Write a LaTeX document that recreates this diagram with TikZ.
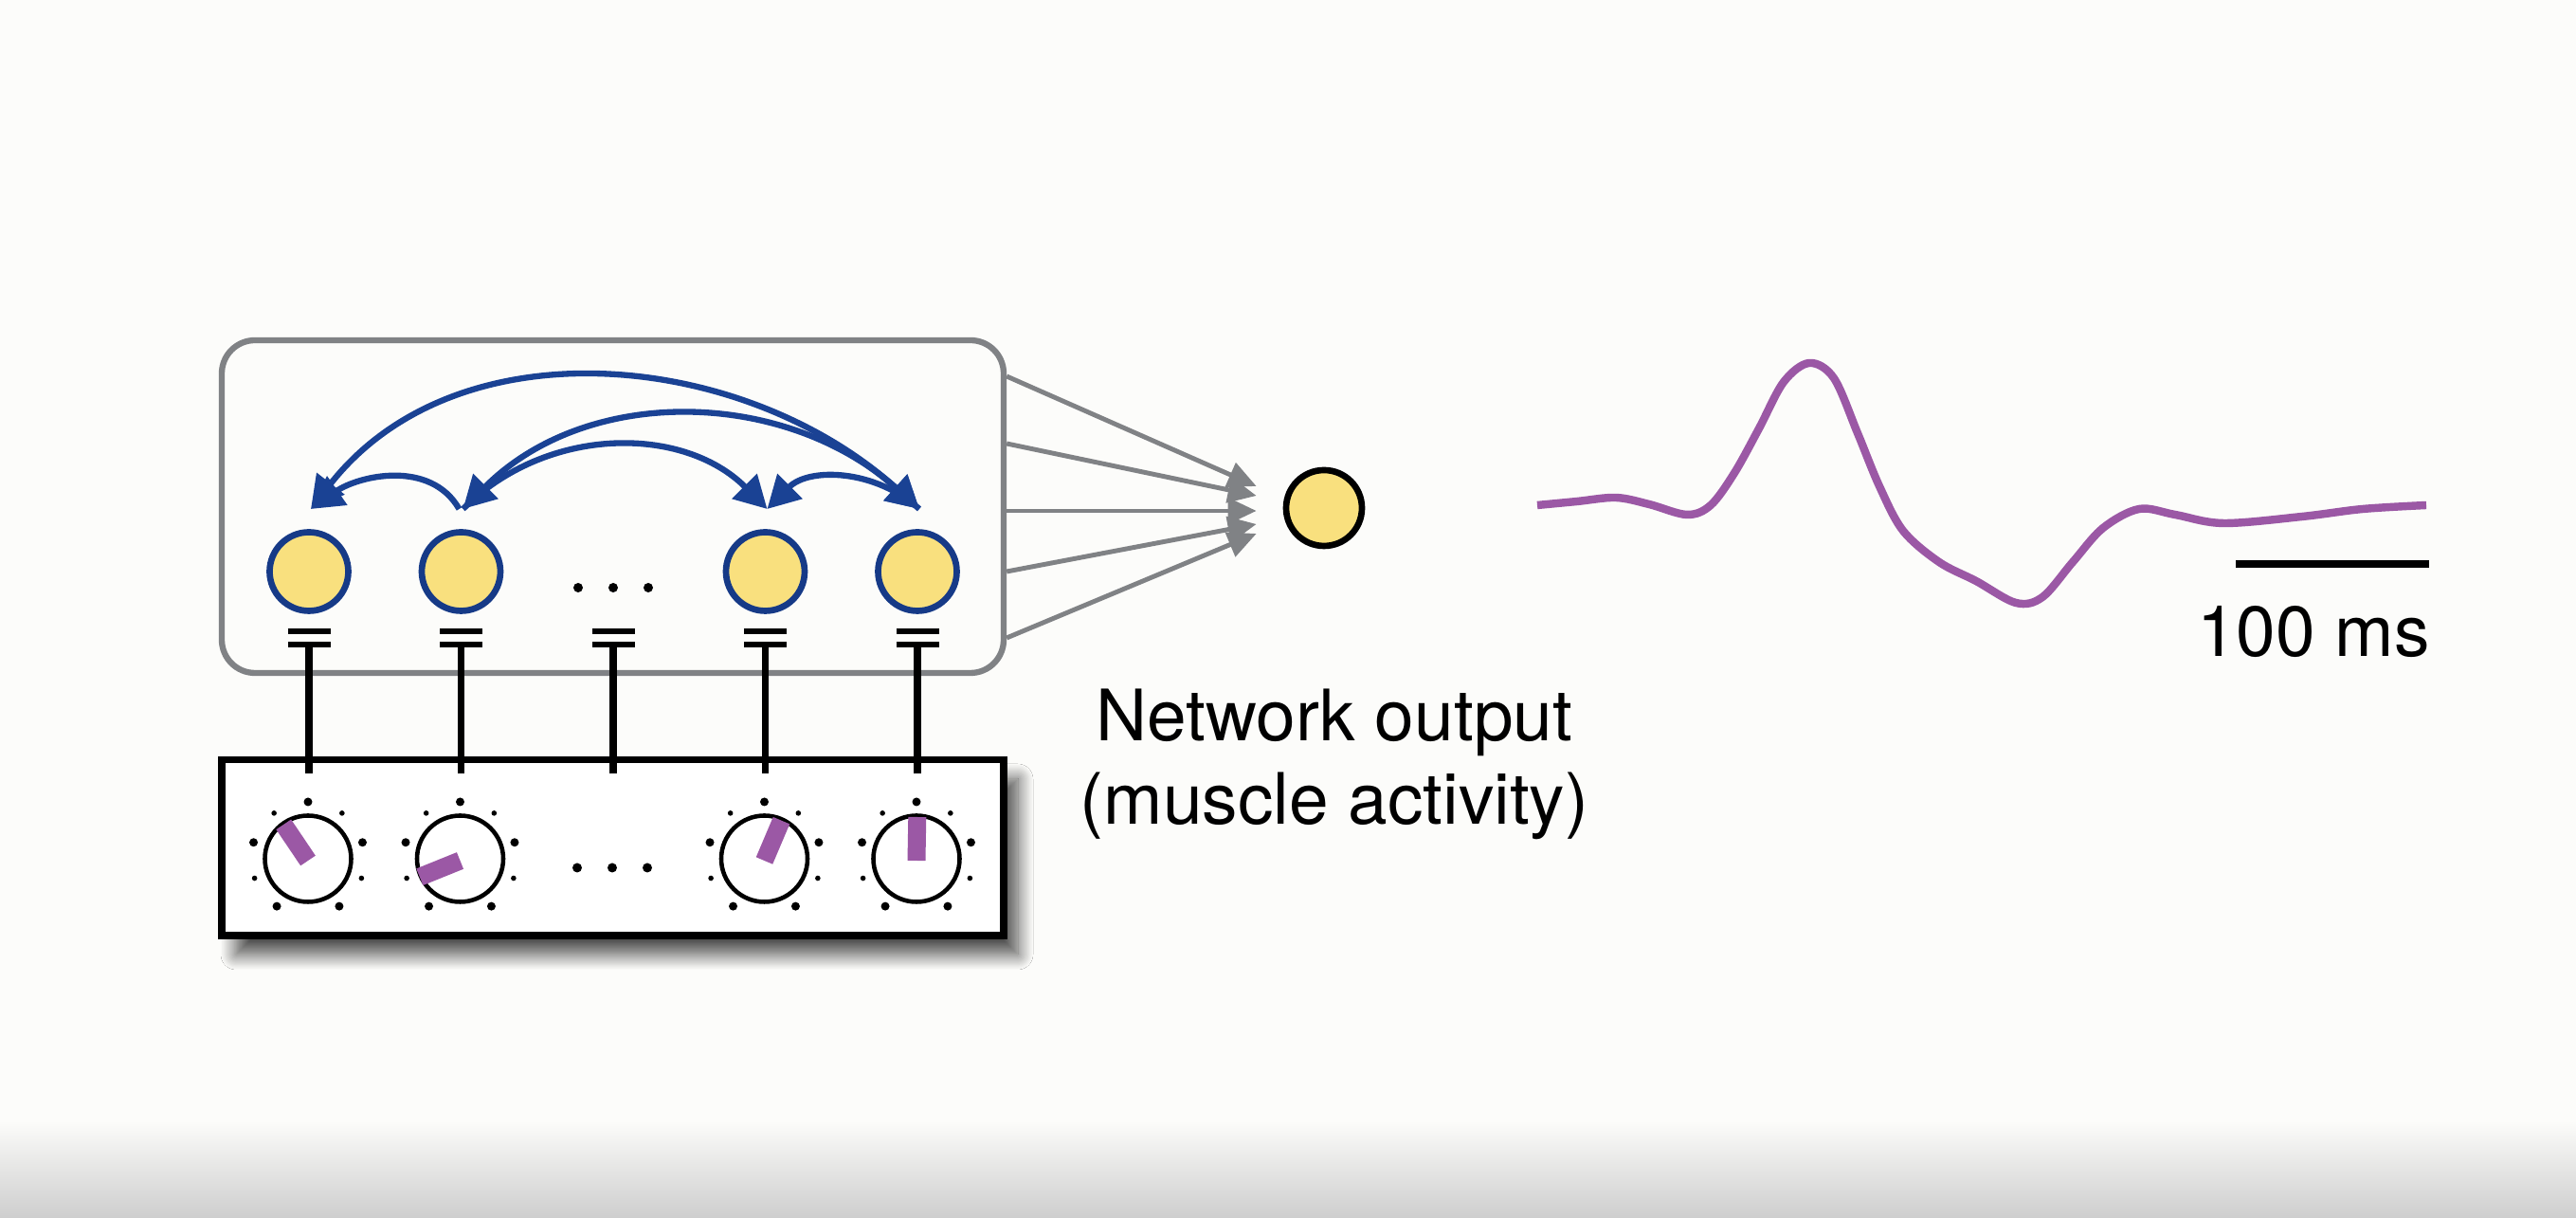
\documentclass[tikz,border=0pt]{standalone}
\usepackage{fontspec}
\setmainfont{TeX Gyre Heros}
\usetikzlibrary{chains,positioning,arrows.meta,shadows.blur}
\definecolor{paper}{RGB}{252,252,250}
\definecolor{floorgray}{RGB}{206,206,206}
\definecolor{cellfill}{RGB}{249,224,126}
\definecolor{cellblue}{RGB}{22,58,135}
\definecolor{arcblue}{RGB}{26,66,148}
\definecolor{linkgray}{RGB}{128,130,133}
\definecolor{knobpurple}{RGB}{155,88,165}
\tikzstyle{unit}=[circle,draw=cellblue,fill=cellfill,line width=1.9pt,minimum size=0.83cm,inner sep=0pt]
\tikzstyle{readout}=[circle,draw=black,fill=cellfill,line width=1.9pt,minimum size=0.8cm,inner sep=0pt]
\tikzstyle{knob}=[circle,draw=black,line width=1.3pt,minimum size=0.91cm,inner sep=0pt]
\tikzstyle{gap}=[minimum size=0.85cm,inner sep=0pt]
\tikzstyle{recur}=[draw=arcblue,line width=1.8pt]
\tikzstyle{feed}=[draw=linkgray,line width=1.4pt,-{Triangle[length=0.3cm,width=0.27cm]}]
\tikzstyle{wire}=[line width=2.2pt]
\tikzstyle{plate}=[line width=1.7pt]
\tikzstyle{label}=[font=\fontsize{21.3}{25}\selectfont,inner sep=0pt]

\begin{document}
\begin{tikzpicture}[>={Triangle[length=0.34cm,width=0.36cm]}]
\fill[paper] (0,0) rectangle (27.18,12.85);
\shade[top color=paper,bottom color=floorgray] (0,0) rectangle (27.18,1.03);
\useasboundingbox (0,0) rectangle (27.18,12.85);

% network and input boxes
\node (net) [draw=linkgray,line width=1.8pt,rounded corners=0.35cm,minimum width=8.25cm,minimum height=3.51cm] at (6.465,7.505) {};
\node (inp) [draw,fill=white,line width=2pt,minimum width=8.25cm,minimum height=1.85cm,
  blur shadow={shadow xshift=0.15cm,shadow yshift=-0.2cm,shadow blur radius=0.16cm,shadow blur steps=14,shadow opacity=70}] at (6.465,3.905) {};

\begin{scope}[start chain=cells going right,node distance=1.605cm,on grid]
    \node [on chain=cells,unit] (c1) at (3.26,6.82) {};
    \node [on chain=cells,unit] (c2) {};
    \node [on chain=cells,gap] (cdots) {};
    \node [on chain=cells,unit] (c3) {};
    \node [on chain=cells,unit] (c4) {};
\end{scope}
\begin{scope}[start chain=knobs going right,node distance=1.605cm,on grid]
    \node [on chain=knobs,knob] (k1) at (3.25,3.79) {};
    \node [on chain=knobs,knob] (k2) {};
    \node [on chain=knobs,gap] (kdots) {};
    \node [on chain=knobs,knob] (k3) {};
    \node [on chain=knobs,knob] (k4) {};
\end{scope}

\foreach \d in {-0.37,0,0.37} {
    \fill ([xshift=\d cm,yshift=-0.17cm]cdots.center) circle (0.05);
    \fill ([xshift=\d cm,yshift=-0.095cm]kdots.center) circle (0.05);
}

% dials
\foreach \k/\a in {k1/124,k2/202,k3/67,k4/89} {
    \foreach \b in {-56.7,16.7,90,163.3,236.7} \fill (\k.center) ++(\b:0.6) circle (0.045);
    \foreach \s in {-20,53.3,126.7,200} \fill (\k.center) ++(\s:0.6) circle (0.028);
    \draw[knobpurple,line width=5.4pt] ([yshift=-0.02cm]\k.center) -- ++(\a:0.46);
}

% input wires
\foreach \c in {c1,c2,cdots,c3,c4} {
    \coordinate (bar\c) at ([yshift=-0.77cm]\c.center);
    \draw[plate] ([xshift=-0.225cm,yshift=0.135cm]bar\c) -- ++(0.45,0);
    \draw[plate] ([xshift=-0.225cm]bar\c) -- ++(0.45,0);
    \draw[wire] (bar\c) -- (bar\c |- inp.north) -- ++(0,-0.18);
}

% recurrent connections
\foreach \c in {c1,c2,c3,c4} \coordinate (tip\c) at ([xshift=0.02cm,yshift=0.66cm]\c.center);
\draw[recur,->] ([xshift=-0.04cm]tipc2) to[out=120,in=35] (tipc1);
\draw[recur,<->] (tipc1) to[out=52,in=138] (tipc4);
\draw[recur,<->] (tipc2) to[out=45,in=138] (tipc4);
\draw[recur,->] (tipc2) to[out=45,in=135] (tipc3);
\draw[recur,->] (tipc4) to[out=138,in=45] (tipc3);

% readout
\node [readout] (out) at (13.97,7.49) {};
\foreach \s/\e in {1.375/0.23,0.665/0.13,-0.045/-0.03,-0.685/-0.17,-1.385/-0.27}
    \draw[feed] ([yshift=\s cm]net.east) -- ([xshift=-0.28cm,yshift=\e cm]out.west);
\node [label,align=center,anchor=north] (outlbl) at (14.08,5.59) {Network output\\(muscle activity)};

% muscle trace
\draw[knobpurple,line width=2.4pt] plot[smooth,tension=0.55] coordinates {
    (16.22,7.52) (16.64,7.56) (17.05,7.60) (17.40,7.53) (17.80,7.42) (18.05,7.52)
    (18.30,7.86) (18.56,8.33) (18.82,8.82) (19.09,9.02) (19.35,8.86) (19.60,8.28)
    (19.83,7.72) (20.08,7.25) (20.46,6.92) (20.85,6.72) (21.27,6.49) (21.55,6.55)
    (21.87,6.92) (22.19,7.28) (22.57,7.48) (22.95,7.42) (23.46,7.33) (24.29,7.40)
    (24.93,7.48) (25.60,7.52)};
\coordinate (sb1) at (23.59,6.90);
\coordinate (sb2) at (25.63,6.90);
\draw[line width=2.4pt] (sb1) -- (sb2);
\node [label,anchor=base] (sblbl) at (24.41,5.92) {100 ms};
\end{tikzpicture}
\end{document}
